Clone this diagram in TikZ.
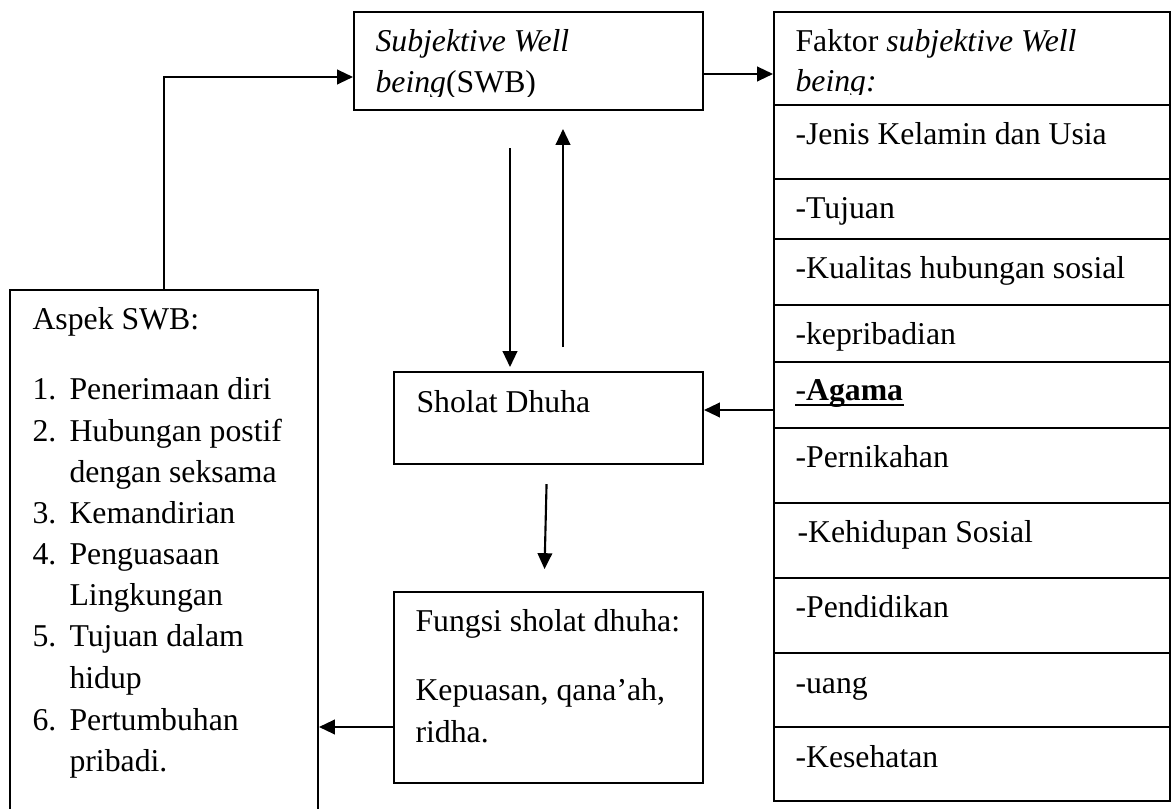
\documentclass[tikz,border=0pt,12pt]{standalone}
\usepackage{fontspec}
\setmainfont{Liberation Serif}
\usetikzlibrary{arrows.meta,fit}

\begin{document}
\begin{tikzpicture}[x=0.378pt,y=-0.378pt,
    >={Triangle[length=6pt,width=5.5pt]},
    box/.style={draw,line width=0.75pt,inner sep=0pt},
    txt/.style={anchor=base west,inner sep=0pt}]
  \useasboundingbox (0,0) rectangle (1174,809);
  % boxes
  \node[box,fit={(354,12)(703,110)}] (swb){};
  \node[box,fit={(394,372)(703,464)}] (sholat){};
  \node[box,fit={(394,592)(703,783)}] (fungsi){};
  \node[box,fit={(10,290)(318,840)}] (aspek){};
  % faktor table
  \node[box,fit={(774,12)(1170,105)}] (faktor){};
  \node[box,fit={(774,105)(1170,179)}] (f1){};
  \node[box,fit={(774,179)(1170,239)}] (f2){};
  \node[box,fit={(774,239)(1170,305)}] (f3){};
  \node[box,fit={(774,305)(1170,362)}] (f4){};
  \node[box,fit={(774,362)(1170,428)}] (f5){};
  \node[box,fit={(774,428)(1170,503)}] (f6){};
  \node[box,fit={(774,503)(1170,578)}] (f7){};
  \node[box,fit={(774,578)(1170,653)}] (f8){};
  \node[box,fit={(774,653)(1170,727)}] (f9){};
  \node[box,fit={(774,727)(1170,801)}] (f10){};
  % texts
  \begin{scope}
    \clip (354,12) rectangle (703,97);
    \path (375,52) node[txt] (swb1){\textit{Subjektive Well}}
      (375,93) node[txt] (swb2){\textit{being}(SWB)};
  \end{scope}
  \begin{scope}
    \clip (774,12) rectangle (1170,95);
    \path (795,52) node[txt] (fk1){Faktor \textit{subjektive Well}}
      (795,92) node[txt] (fk2){\textit{being:}};
  \end{scope}
  \path
    (795,145) node[txt] (t1){-Jenis Kelamin dan Usia}
    (795,219) node[txt] (t2){-Tujuan}
    (795,279) node[txt] (t3){-Kualitas hubungan sosial}
    (795,345) node[txt] (t4){-kepribadian}
    (795,401) node[txt] (t5){-\textbf{Agama}}
    (795,468) node[txt] (t6){-Pernikahan}
    (797,543) node[txt] (t7){-Kehidupan Sosial}
    (795,618) node[txt] (t8){-Pendidikan}
    (795,693) node[txt] (t9){-uang}
    (795,767) node[txt] (t10){-Kesehatan};
  \draw[line width=0.9pt] ([yshift=-1.6pt]t5.base west) -- ([yshift=-1.6pt]t5.base east);
  \path
    (416,413) node[txt] (sd){Sholat Dhuha}
    (415,632) node[txt] (fs1){Fungsi sholat dhuha:}
    (415,700) node[txt] (fs2){Kepuasan, qana’ah,}
    (415,742) node[txt] (fs3){ridha.};
  \path
    (32,330) node[txt] (as0){Aspek SWB:}
    (32,400) node[txt] (n1){1.} (69,400) node[txt] (as1){Penerimaan diri}
    (32,442) node[txt] (n2){2.} (69,442) node[txt] (as2){Hubungan postif}
    (69,483) node[txt] (as2b){dengan seksama}
    (32,524) node[txt] (n3){3.} (69,524) node[txt] (as3){Kemandirian}
    (32,565) node[txt] (n4){4.} (69,565) node[txt] (as4){Penguasaan}
    (69,606) node[txt] (as4b){Lingkungan}
    (32,647) node[txt] (n5){5.} (69,647) node[txt] (as5){Tujuan dalam}
    (69,689) node[txt] (as5b){hidup}
    (32,730) node[txt] (n6){6.} (69,730) node[txt] (as6){Pertumbuhan}
    (69,771) node[txt] (as6b){pribadi.};
  % arrows
  \begin{scope}[->,line width=0.8pt]
    \draw (aspek.north) |- (swb.west |- 0,77);
    \draw (swb.east |- 0,74) -- (faktor.west |- 0,74);
    \draw[shorten <=14pt,shorten >=1.5pt] (swb.south -| 510,0) -- (sholat.north -| 510,0);
    \draw[shorten <=9pt,shorten >=6.8pt] (sholat.north -| 563,0) -- (swb.south -| 563,0);
    \draw (f5.west |- 0,410) -- (sholat.east |- 0,410);
    \draw[shorten <=7.2pt,shorten >=8.3pt] (sholat.south -| 547,0) -- (fungsi.north -| 544,0);
    \draw (fungsi.west |- 0,727) -- (aspek.east |- 0,727);
  \end{scope}
\end{tikzpicture}
\end{document}
